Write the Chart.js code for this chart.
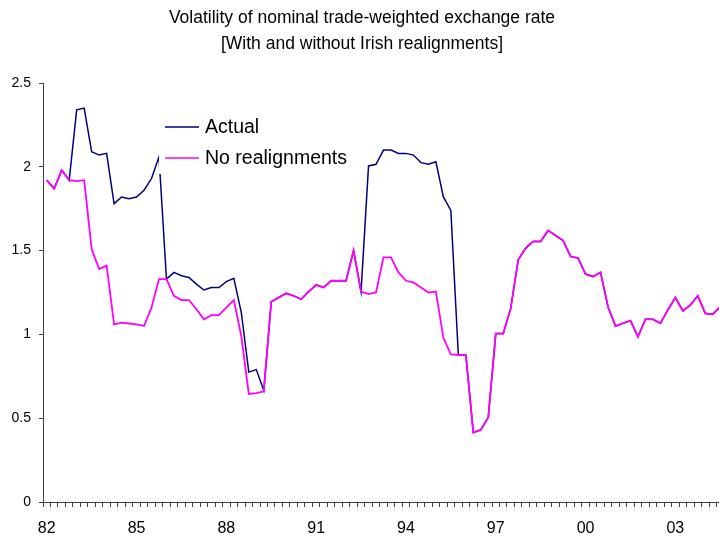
<!DOCTYPE html>
<html><head><meta charset="utf-8">
<script src="https://cdn.jsdelivr.net/npm/chart.js@4/dist/chart.umd.min.js"></script>
<style>
html,body{margin:0;padding:0;background:#fff;overflow:hidden;width:719px;height:539px}
#wrap{width:724px;height:539px;position:absolute;left:0;top:0}
#c{display:block;width:724px;height:539px}
</style>
</head><body>
<div id="wrap"><canvas id="c" width="724" height="539"></canvas></div>
<script>
const quarters = [
 '82Q1','82Q2','82Q3','82Q4','83Q1','83Q2','83Q3','83Q4','84Q1','84Q2','84Q3','84Q4',
 '85Q1','85Q2','85Q3','85Q4','86Q1','86Q2','86Q3','86Q4','87Q1','87Q2','87Q3','87Q4',
 '88Q1','88Q2','88Q3','88Q4','89Q1','89Q2','89Q3','89Q4','90Q1','90Q2','90Q3','90Q4',
 '91Q1','91Q2','91Q3','91Q4','92Q1','92Q2','92Q3','92Q4','93Q1','93Q2','93Q3','93Q4',
 '94Q1','94Q2','94Q3','94Q4','95Q1','95Q2','95Q3','95Q4','96Q1','96Q2','96Q3','96Q4',
 '97Q1','97Q2','97Q3','97Q4','98Q1','98Q2','98Q3','98Q4','99Q1','99Q2','99Q3','99Q4',
 '00Q1','00Q2','00Q3','00Q4','01Q1','01Q2','01Q3','01Q4','02Q1','02Q2','02Q3','02Q4',
 '03Q1','03Q2','03Q3','03Q4','04Q1','04Q2','04Q3'
];
const actual = [
 1.92,1.87,1.98,1.92,2.34,2.35,2.09,2.07,2.08,1.78,1.82,1.81,
 1.82,1.86,1.93,2.06,1.33,1.37,1.35,1.34,1.30,1.265,1.28,1.28,
 1.315,1.335,1.13,0.775,0.79,0.665,1.195,1.22,1.245,1.23,1.21,1.255,
 1.295,1.28,1.32,1.32,1.32,1.50,1.255,2.005,2.015,2.10,2.10,2.08,
 2.08,2.07,2.025,2.015,2.03,1.82,1.74,0.877,0.877,0.415,0.43,0.505,
 1.005,1.005,1.155,1.445,1.515,1.555,1.555,1.62,1.59,1.56,1.465,1.455,
 1.36,1.345,1.37,1.165,1.05,1.066,1.082,0.986,1.09,1.09,1.066,1.146,
 1.22,1.14,1.175,1.23,1.125,1.12,1.165
];
const noRealignments = [
 1.92,1.87,1.98,1.92,1.915,1.92,1.51,1.39,1.41,1.06,1.07,1.065,
 1.06,1.05,1.16,1.33,1.33,1.23,1.205,1.205,1.15,1.09,1.115,1.115,
 1.16,1.205,0.99,0.645,0.65,0.66,1.195,1.22,1.245,1.23,1.21,1.255,
 1.295,1.28,1.32,1.32,1.32,1.50,1.255,1.24,1.25,1.46,1.46,1.37,
 1.32,1.31,1.28,1.25,1.255,0.98,0.88,0.877,0.877,0.415,0.43,0.505,
 1.005,1.005,1.155,1.445,1.515,1.555,1.555,1.62,1.59,1.56,1.465,1.455,
 1.36,1.345,1.37,1.165,1.05,1.066,1.082,0.986,1.09,1.09,1.066,1.146,
 1.22,1.14,1.175,1.23,1.125,1.12,1.165
];
const tickLabels = {'82Q1':'82','85Q1':'85','88Q1':'88','91Q1':'91','94Q1':'94','97Q1':'97','00Q1':'00','03Q1':'03'};
const titleLines = ['Volatility of nominal trade-weighted exchange rate','[With and without Irish realignments]'];
const seriesNames = ['Actual','No realignments'];
const seriesColors = ['#000080','#FF00FF'];

const FONT = '"Liberation Sans", Arial, sans-serif';
const AXIS = '#404040';

const boxLegend = {
  id: 'boxLegend',
  afterDatasetsDraw(chart) {
    const ctx = chart.ctx;
    ctx.save();
    ctx.fillStyle = '#ffffff';
    ctx.fillRect(159, 110, 196, 64);
    const rows = [127, 158];
    ctx.font = '19.5px ' + FONT;
    ctx.textBaseline = 'middle';
    ctx.textAlign = 'left';
    seriesNames.forEach((name, i) => {
      ctx.strokeStyle = seriesColors[i];
      ctx.lineWidth = 1.5;
      ctx.beginPath();
      ctx.moveTo(165, rows[i]);
      ctx.lineTo(199, rows[i]);
      ctx.stroke();
      ctx.fillStyle = '#000';
      ctx.fillText(name, 205, rows[i] + 1);
    });
    ctx.restore();
  }
};

new Chart(document.getElementById('c'), {
  type: 'line',
  data: {
    labels: quarters,
    datasets: [
      {label: seriesNames[0], data: actual, borderColor: seriesColors[0], borderWidth: 1.5, pointRadius: 0, tension: 0, fill: false, order: 2},
      {label: seriesNames[1], data: noRealignments, borderColor: seriesColors[1], borderWidth: 1.8, pointRadius: 0, tension: 0, fill: false, order: 1}
    ]
  },
  options: {
    responsive: false,
    maintainAspectRatio: false,
    animation: false,
    devicePixelRatio: 1,
    layout: {padding: 0},
    plugins: {
      legend: {display: false},
      tooltip: {enabled: false},
      title: {
        display: true,
        text: titleLines,
        color: '#000',
        font: {family: FONT, size: 17.5, weight: 'normal', lineHeight: '26px'},
        padding: {top: 5, bottom: 26}
      }
    },
    scales: {
      x: {
        type: 'category',
        offset: true,
        grid: {offset: true, drawOnChartArea: false, drawTicks: true, tickLength: 5, color: AXIS, tickColor: AXIS},
        border: {display: true, color: AXIS, width: 1},
        ticks: {
          autoSkip: false, maxRotation: 0, minRotation: 0, padding: 12, color: '#000',
          font: {family: FONT, size: 16},
          callback: (v, i) => tickLabels[quarters[i]] || ''
        },
        afterFit: s => { s.height = 37; s.paddingLeft = 0; s.paddingRight = 0; }
      },
      y: {
        min: 0, max: 2.5,
        grid: {drawOnChartArea: false, drawTicks: true, tickLength: 4, color: AXIS, tickColor: AXIS},
        border: {display: true, color: AXIS, width: 1},
        ticks: {stepSize: 0.5, padding: 8, color: '#000', font: {family: FONT, size: 14}, callback: v => String(v)},
        afterFit: s => { s.width = 43; }
      }
    }
  },
  plugins: [boxLegend]
});
</script>
</body></html>
